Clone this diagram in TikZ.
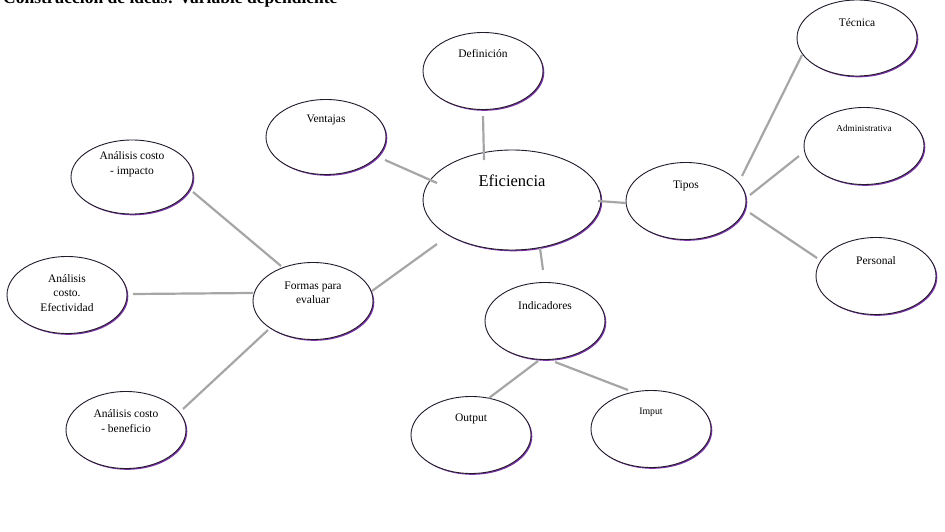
\documentclass[tikz,border=0pt]{standalone}
\usepackage{fontspec}
\setmainfont{Liberation Serif}
\usetikzlibrary{calc,shadows,shapes.geometric}
\definecolor{ovalline}{HTML}{231A2B}
\definecolor{ovalshadow}{HTML}{7B35A8}
\definecolor{linkgray}{HTML}{A6A6A6}
\tikzset{
  oval/.style={ellipse, draw=ovalline, line width=0.9pt, fill=white,
    minimum width=120pt, minimum height=77pt, inner sep=0pt,
    general shadow={fill=ovalshadow, shadow xshift=1.3pt, shadow yshift=-1.3pt}},
  lbl/.style={font=\fontsize{11.5}{14.5}\selectfont, align=center, inner sep=0pt},
  link/.style={draw=linkgray, line width=2.2pt}
}
\begin{document}
\begin{tikzpicture}[x=1pt,y=-1pt]
\useasboundingbox (0,0) rectangle (945,532);
\node[anchor=base west, font=\fontsize{17.5}{20}\selectfont\bfseries, inner sep=0pt] (title) at (3,4) {Construcción de ideas: Variable dependiente};

\node[oval, minimum width=178pt, minimum height=100pt] (eff) at (512,200) {};
\node[oval] (def) at (483,71) {};
\node[oval, minimum height=75pt] (ven) at (326,137) {};
\node[oval] (tip) at (686,201) {};
\node[oval, minimum height=76pt] (tec) at (857,38) {};
\node[oval] (adm) at (864,146) {};
\node[oval] (per) at (876,276) {};
\node[oval] (ind) at (545,321) {};
\node[oval] (out) at (471,435) {};
\node[oval] (imp) at (651,429) {};
\node[oval] (for) at (313,301) {};
\node[oval, minimum width=122pt, minimum height=74pt] (cimp) at (132,177) {};
\node[oval] (cef) at (67,295) {};
\node[oval] (cben) at (126,430) {};

\node[lbl, font=\fontsize{16.5}{19}\selectfont] (effl) at (512,181) {Eficiencia};
\node[lbl] (defl) at (483,54) {Definición};
\node[lbl] (venl) at (326,120) {Ventajas};
\node[lbl] (tipl) at (686,186) {Tipos};
\node[lbl] (tecl) at (857,23) {Técnica};
\node[lbl, font=\fontsize{9.2}{11}\selectfont] (adml) at (864,128) {Administrativa};
\node[lbl] (perl) at (876,261) {Personal};
\node[lbl] (indl) at (545,306) {Indicadores};
\node[lbl] (outl) at (471,419) {Output};
\node[lbl, font=\fontsize{9.8}{12}\selectfont] (impl) at (651,412) {Imput};
\node[lbl] (forl) at (313,293) {Formas para\\evaluar};
\node[lbl] (cimpl) at (132,164) {Análisis costo\\- impacto};
\node[lbl] (cefl) at (67,293) {Análisis\\costo.\\Efectividad};
\node[lbl] (cbenl) at (126,421) {Análisis costo\\- beneficio};

\draw[link] ($(def)+(0,45)$) -- ($(eff)+(-28,-40)$);
\draw[link] ($(ven)+(59,23)$) -- ($(eff)+(-75,-17)$);
\draw[link] ($(eff)+(86,1)$) -- ($(tip)+(-60,2)$);
\draw[link] ($(eff)+(28,48)$) -- ($(ind)+(-2,-51)$);
\draw[link] ($(eff)+(-75,44)$) -- ($(for)+(59,-10)$);
\draw[link] ($(tip)+(56,-25)$) -- ($(tec)+(-55,17)$);
\draw[link] ($(tip)+(64,-6)$) -- ($(adm)+(-65,10)$);
\draw[link] ($(tip)+(64,12)$) -- ($(per)+(-59,-18)$);
\draw[link] ($(ind)+(-7,40)$) -- ($(out)+(18,-37)$);
\draw[link] ($(ind)+(10,41)$) -- ($(imp)+(-23,-39)$);
\draw[link] ($(for)+(-32,-35)$) -- ($(cimp)+(61,15)$);
\draw[link] ($(for)+(-60,-8)$) -- ($(cef)+(66,-1)$);
\draw[link] ($(for)+(-45,29)$) -- ($(cben)+(57,-21)$);
\end{tikzpicture}
\end{document}
